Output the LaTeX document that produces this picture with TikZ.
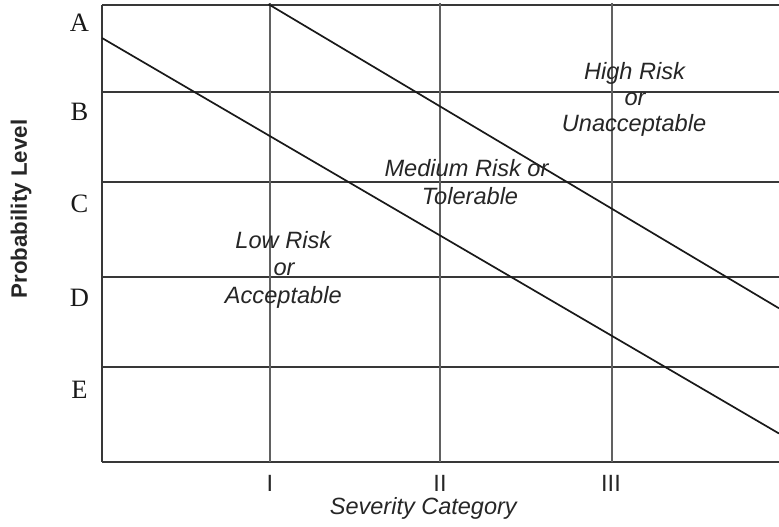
\documentclass[tikz,border=0pt]{standalone}
\usepackage{fontspec}
\setmainfont{Liberation Serif}
\setsansfont{Liberation Sans}
\begin{document}
\begin{tikzpicture}[x=1pt,y=-1pt,
  gridline/.style={line width=1.8pt,draw=black!78},
  vline/.style={line width=2pt,draw=black!62},
  diag/.style={line width=1.7pt,draw=black!90},
  rowlab/.style={anchor=base,inner sep=0pt,font=\fontsize{26.5}{30}\selectfont,text=black!90},
  risklab/.style={anchor=base,inner sep=0pt,font=\sffamily\itshape\fontsize{23.6}{27}\selectfont,text=black!85},
  numlab/.style={anchor=base,inner sep=0pt,font=\sffamily\fontsize{23.5}{27}\selectfont,text=black!85},
  axislab/.style={anchor=base,inner sep=0pt,text=black!85}]
\useasboundingbox (0,0) rectangle (779,527);
% grid coordinates
\coordinate (tl) at (102,4.7);
\coordinate (tr) at (779,4.7);
\coordinate (bl) at (102,461.7);
\coordinate (br) at (779,461.7);
% frame
\draw[gridline] (tl) -- (tr);
\draw[gridline] (bl) -- (br);
\draw[gridline] (tl) -- (bl);
% horizontal lines
\coordinate (hB0) at (101,91.7);  \coordinate (hB1) at (779,91.7);
\coordinate (hC0) at (101,181.7); \coordinate (hC1) at (779,181.7);
\coordinate (hD0) at (101,276.7); \coordinate (hD1) at (779,276.7);
\coordinate (hE0) at (101,367);   \coordinate (hE1) at (779,367);
\draw[gridline] (hB0) -- (hB1);
\draw[gridline] (hC0) -- (hC1);
\draw[gridline] (hD0) -- (hD1);
\draw[gridline] (hE0) -- (hE1);
% vertical lines
\coordinate (v1t) at (270,3);   \coordinate (v1b) at (270,461.7);
\coordinate (v2t) at (440,3);   \coordinate (v2b) at (440,461.7);
\coordinate (v3t) at (611.5,3); \coordinate (v3b) at (611.5,461.7);
\draw[vline] (v1t) -- (v1b);
\draw[vline] (v2t) -- (v2b);
\draw[vline] (v3t) -- (v3b);
% diagonal boundaries
\coordinate (d1s) at (102,38);
\coordinate (d1e) at (779,433.5);
\coordinate (d2s) at (268.5,4.2);
\coordinate (d2e) at (779,308.3);
\draw[diag] (d1s) -- (d1e);
\draw[diag] (d2s) -- (d2e);
% row labels
\node[rowlab] (lA) at (79.5,31.7) {A};
\node[rowlab] (lB) at (79.5,120) {B};
\node[rowlab] (lC) at (79.5,212) {C};
\node[rowlab] (lD) at (79.5,306.5) {D};
\node[rowlab] (lE) at (79.5,398) {E};
% column labels
\node[numlab] (nI) at (270,491.5) {I};
\node[numlab] (nII) at (440,491.5) {II};
\node[numlab] (nIII) at (611,491.5) {III};
% axis titles
\node[axislab,font=\sffamily\itshape\fontsize{23.5}{27}\selectfont] (xt) at (423.3,514) {Severity Category};
\node[axislab,rotate=90,font=\sffamily\bfseries\fontsize{22.3}{26}\selectfont] (yt) at (27,209) {Probability Level};
% region labels
\node[risklab] (h1) at (634.5,79) {High Risk};
\node[risklab] (h2) at (635,105) {or};
\node[risklab] (h3) at (634,131.5) {Unacceptable};
\node[risklab] (m1) at (466.5,176.7) {Medium Risk or};
\node[risklab] (m2) at (470,204) {Tolerable};
\node[risklab] (l1) at (283.3,248.3) {Low Risk};
\node[risklab] (l2) at (284,275) {or};
\node[risklab] (l3) at (283.3,303.3) {Acceptable};
\end{tikzpicture}
\end{document}
